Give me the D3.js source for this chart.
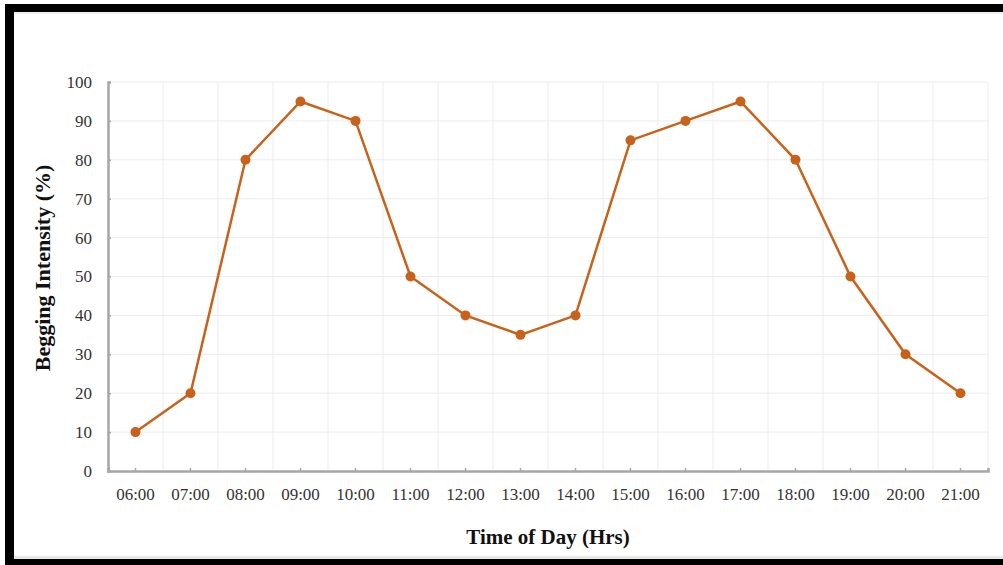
<!DOCTYPE html>
<html>
<head>
<meta charset="utf-8">
<script src="https://d3js.org/d3.v7.min.js"></script>
<style>
  body { margin: 0; background: #fff; }
  svg { display: block; }
</style>
</head>
<body>
<svg id="frame"></svg>
<script>
  // values
  var hours = ["06:00", "07:00", "08:00", "09:00", "10:00", "11:00", "12:00", "13:00",
               "14:00", "15:00", "16:00", "17:00", "18:00", "19:00", "20:00", "21:00"];
  var intensity = [10, 20, 80, 95, 90, 50, 40, 35, 40, 85, 90, 95, 80, 50, 30, 20];
  var yTicks = [0, 10, 20, 30, 40, 50, 60, 70, 80, 90, 100];

  var width = 1003, height = 565;
  var serif = "'Liberation Serif', 'Times New Roman', serif";
  var lineColor = "#c8621b";

  var svg = d3.select('#frame').attr('width', width).attr('height', height);

  // frame around the picture
  svg.append('rect').attr('x', 0).attr('y', 0).attr('width', width).attr('height', height).attr('fill', '#fff');
  svg.append('rect').attr('x', 5).attr('y', 4).attr('width', width - 5).attr('height', 8).attr('fill', '#000');
  svg.append('rect').attr('x', 5).attr('y', 4).attr('width', 9).attr('height', height - 4).attr('fill', '#000');
  svg.append('rect').attr('x', 5).attr('y', 559).attr('width', width - 5).attr('height', 6).attr('fill', '#000');
  svg.append('rect').attr('x', 14).attr('y', 12).attr('width', width - 14).attr('height', 2).attr('fill', '#eee');
  svg.append('rect').attr('x', 14).attr('y', 556).attr('width', width - 14).attr('height', 3).attr('fill', '#e8e8e8');

  var x = d3.scaleBand().domain(hours).range([108, 988]);
  var y = d3.scaleLinear().domain([0, 100]).range([471, 82]);

  var g = svg.append('g');

  // gridlines
  g.selectAll('.hgrid').data(yTicks.slice(1)).enter().append('line')
    .attr('x1', 108).attr('x2', 988)
    .attr('y1', function(d){ return y(d); }).attr('y2', function(d){ return y(d); })
    .attr('stroke', '#ececec').attr('stroke-width', 1);
  g.selectAll('.vgrid').data(hours).enter().append('line')
    .attr('x1', function(d){ return x(d) + x.bandwidth(); })
    .attr('x2', function(d){ return x(d) + x.bandwidth(); })
    .attr('y1', y(100)).attr('y2', y(0))
    .attr('stroke', '#ececec').attr('stroke-width', 1);

  // axes
  var yAxis = g.append('g').attr('transform', 'translate(108,0)')
    .call(d3.axisLeft(y).tickValues(yTicks).tickSize(-3).tickPadding(16));
  var xAxis = g.append('g').attr('transform', 'translate(0,471)')
    .call(d3.axisBottom(x).tickSize(-3).tickPadding(17));

  [xAxis, yAxis].forEach(function(a){
    a.select('.domain').attr('stroke', '#a6a6a6').attr('stroke-width', 2.5);
    a.selectAll('.tick line').attr('stroke', '#a6a6a6').attr('stroke-width', 1.5);
    a.selectAll('.tick text').attr('fill', '#333').style('font-family', serif).style('font-size', '17px');
  });

  // line and points
  var line = d3.line()
    .x(function(d, i){ return x(hours[i]) + x.bandwidth() / 2; })
    .y(function(d){ return y(d); });

  g.append('path').datum(intensity)
    .attr('d', line)
    .attr('fill', 'none')
    .attr('stroke', lineColor)
    .attr('stroke-width', 2.5);

  g.selectAll('circle').data(intensity).enter().append('circle')
    .attr('cx', function(d, i){ return x(hours[i]) + x.bandwidth() / 2; })
    .attr('cy', function(d){ return y(d); })
    .attr('r', 5)
    .attr('fill', lineColor);

  // axis titles
  svg.append('text')
    .attr('transform', 'translate(50,' + 268 + ') rotate(-90)')
    .attr('text-anchor', 'middle')
    .style('font-family', serif).style('font-size', '22px').style('font-weight', 'bold')
    .attr('fill', '#111')
    .text('Begging Intensity (%)');

  svg.append('text')
    .attr('x', 548).attr('y', 544)
    .attr('text-anchor', 'middle')
    .style('font-family', serif).style('font-size', '21px').style('font-weight', 'bold')
    .attr('fill', '#111')
    .text('Time of Day (Hrs)');
</script>
</body>
</html>
